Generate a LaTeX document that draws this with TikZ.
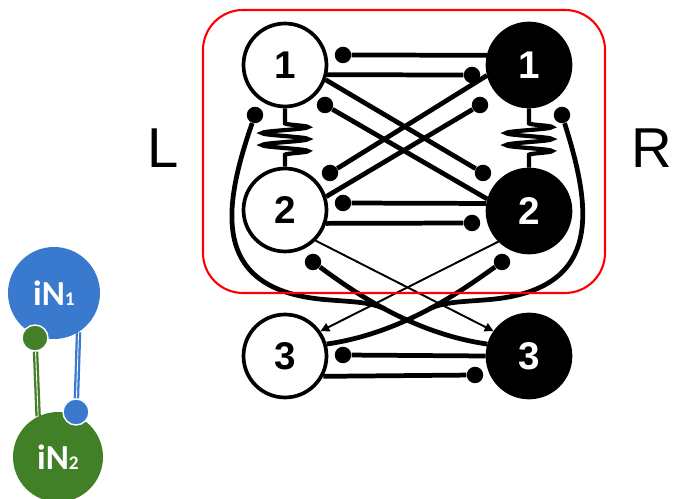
\documentclass[tikz,border=0pt]{standalone}
\usepackage{fontspec}
\setmainfont{Liberation Sans}
\newfontfamily\calfont{Carlito}
\usetikzlibrary{arrows.meta,decorations.pathmorphing}
\definecolor{inblue}{RGB}{58,122,206}
\definecolor{ingreen}{RGB}{66,128,40}

\tikzset{
  cell/.style={circle,draw,line width=2.1pt,minimum size=1.66cm,inner sep=0pt,
    font=\fontsize{22}{22}\selectfont\bfseries},
  lcell/.style={cell,fill=white},
  rcell/.style={cell,fill=black,text=white},
  syn/.style={circle,fill=black,inner sep=0pt,minimum size=0.33cm},
  conn/.style={line width=2.7pt},
  wire/.style={line width=1.1pt,-{Triangle[length=5pt,width=5pt]}},
  spring/.style={line width=2.4pt,decorate,decoration={snake,amplitude=0.46cm,
    segment length=0.24cm,pre length=0.3cm,post length=0.2cm}},
  inode/.style={circle,inner sep=0pt,text=white,
    font=\calfont\bfseries\fontsize{20}{20}\selectfont},
  knob/.style={circle,draw=white,line width=0.8pt,inner sep=0pt,minimum size=0.52cm},
  stalk/.style={line width=1.3pt,double=white,double distance=0.5pt}
}

\begin{document}
\begin{tikzpicture}[x=0.02cm,y=-0.02cm]
	\useasboundingbox (0,0) rectangle (674,499);
	% cells
	\node[lcell] (L1) at (285,65) {1};
	\node[rcell] (R1) at (529,65) {1};
	\node[lcell] (L2) at (285,210) {2};
	\node[rcell] (R2) at (529,211) {2};
	\node[lcell] (L3) at (285,356) {3};
	\node[rcell] (R3) at (529,356) {3};
	\node[font=\fontsize{32}{32}\selectfont] (sideL) at (163,148) {L};
	\node[font=\fontsize{32}{32}\selectfont] (sideR) at (652,148) {R};
	% synapses
	\node[syn] (s1) at (343,55) {};
	\node[syn] (s2) at (472,75) {};
	\node[syn] (s3) at (483,173) {};
	\node[syn] (s4) at (325,105) {};
	\node[syn] (s5) at (330,173) {};
	\node[syn] (s6) at (480,105) {};
	\node[syn] (s7) at (343,203) {};
	\node[syn] (s8) at (472,223) {};
	\node[syn] (s9) at (255,115) {};
	\node[syn] (s10) at (562,115) {};
	\node[syn] (s11) at (313,262) {};
	\node[syn] (s12) at (502,262) {};
	\node[syn] (s13) at (343,355) {};
	\node[syn] (s14) at (475,375) {};
	\draw[conn] (R1.167) -- (s1);
	\draw[conn] (L1.-13) -- (s2);
	\draw[conn] (L1.-20) -- (s3);
	\draw[conn] (R2.164) -- (s4);
	\draw[conn] (R1.194) -- (s5);
	\draw[conn] (L2.18) -- (s6);
	\draw[conn] (R2.170) -- (s7);
	\draw[conn] (L2.-18) -- (s8);
	\draw[conn] (R3.180) -- (s13);
	\draw[conn] (L3.-28) -- (s14);
	% gap junctions
	\draw[spring] (L1) -- (L2);
	\draw[spring] (R1) -- (R2);
	% thin excitatory
	\draw[wire] (L2.-45) -- (R3.145);
	\draw[wire] (R2.225) -- (L3.35);
	% curves to cell 3
	\coordinate (jl) at (385,309);
	\coordinate (jr) at (429,309);
	\draw[conn] (s11) .. controls (350,289) and (410,333) .. (R3.164);
	\draw[conn] (s12) .. controls (464,289) and (404,333) .. (L3.16);
	\draw[conn] (s9) .. controls (222,210) and (210,292) .. (330,300)
		.. controls (355,302) and (370,302) .. (jl);
	\draw[conn] (s10) .. controls (592,210) and (604,292) .. (484,300)
		.. controls (459,302) and (444,302) .. (jr);
	\draw[red,line width=1.2pt,rounded corners=0.8cm] (203,10) rectangle (605,293);
	% iN pair
	\node[inode,fill=inblue,minimum size=1.84cm] (in1) at (54,293) {iN{\fontsize{11}{11}\selectfont 1}};
	\node[knob,fill=ingreen] (gb) at (35,338) {};
	\node[inode,fill=ingreen,minimum size=1.8cm] (in2) at (58,457) {iN{\fontsize{11}{11}\selectfont 2}};
	\node[knob,fill=inblue] (bb) at (76,412) {};
	\draw[stalk,ingreen] (gb) -- (in2.116);
	\draw[stalk,inblue] (in1.-58) -- (bb);
\end{tikzpicture}
\end{document}
